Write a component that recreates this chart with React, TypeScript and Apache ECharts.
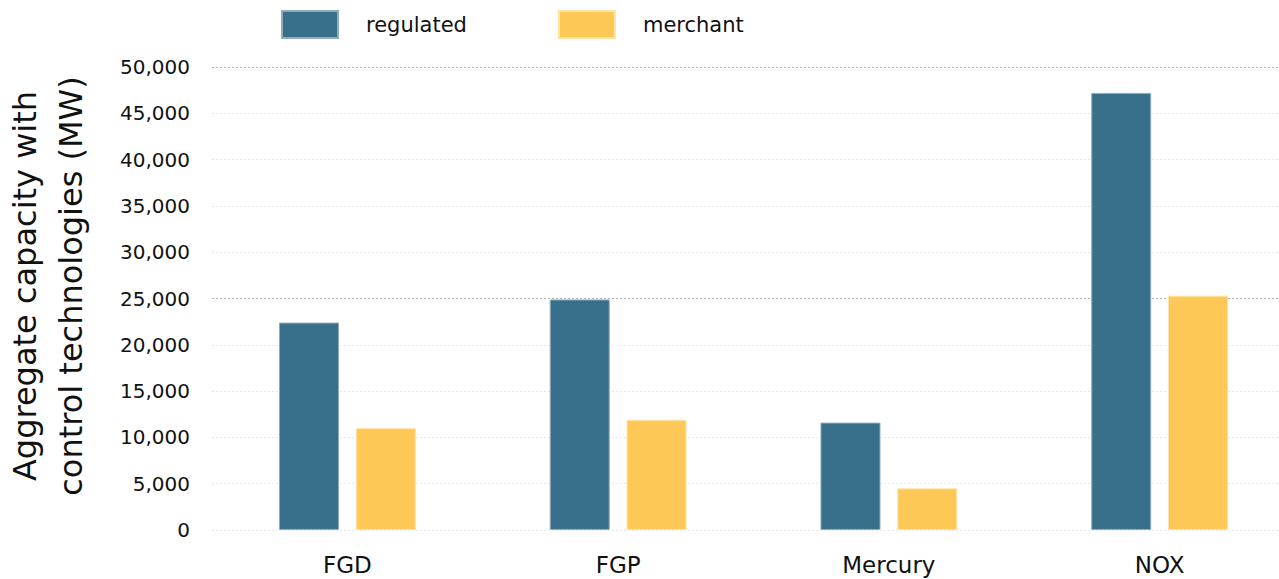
import React, { useEffect, useRef } from "react";
import * as echarts from "echarts";

const categories = ["FGD", "FGP", "Mercury", "NOX"];
const regulated = [22400, 24900, 11600, 47200];
const merchant = [11000, 11900, 4500, 25300];
const seriesNames = ["regulated", "merchant"];
const yTitle = "Aggregate capacity with\ncontrol technologies (MW)";

const FONT = "'DejaVu Sans', sans-serif";

export default function App() {
  const ref = useRef<HTMLDivElement>(null);
  useEffect(() => {
    if (!ref.current) return;
    document.documentElement.style.overflow = "hidden";
    const chart = echarts.init(ref.current, undefined, { renderer: "svg" });
    const light = "#e6e6e6";
    const dark = "#b5b5b5";
    chart.setOption({
      animation: false,
      textStyle: { fontFamily: FONT },
      legend: {
        left: 281,
        top: 10,
        padding: 0,
        itemWidth: 56,
        itemHeight: 27,
        itemGap: 91,
        icon: "rect",
        textStyle: { fontSize: 21, color: "#111", padding: [0, 0, 0, 23], fontFamily: FONT },
        data: seriesNames,
      },
      graphic: [
        {
          type: "text",
          x: 48,
          y: 286,
          rotation: Math.PI / 2,
          style: {
            text: yTitle,
            font: `32px ${FONT}`,
            fill: "#111",
            textAlign: "center",
            textVerticalAlign: "middle",
            lineHeight: 46,
          },
        },
      ],
      grid: { left: 212, right: 0, top: 67, bottom: 49, containLabel: false, outerBoundsMode: "none" },
      xAxis: {
        type: "category",
        data: categories,
        axisLine: { show: false },
        axisTick: { show: false },
        axisLabel: { fontSize: 23, color: "#111", margin: 23, fontFamily: FONT },
      },
      yAxis: {
        type: "value",
        min: 0,
        max: 50000,
        interval: 5000,
        axisLine: { show: false },
        axisTick: { show: false },
        axisLabel: {
          fontSize: 20,
          color: "#111",
          margin: 22,
          fontFamily: FONT,
          formatter: (v: number) => v.toLocaleString("en-US"),
        },
        splitLine: {
          lineStyle: {
            type: [2, 2],
            width: 1,
            color: [light, light, light, light, light, dark, light, light, light, light, dark],
          },
        },
      },
      series: [
        {
          name: seriesNames[0],
          type: "bar",
          data: regulated,
          barWidth: 60,
          barGap: "28%",
          itemStyle: { color: "#386f8a", borderColor: "#8fadbd", borderWidth: 1 },
        },
        {
          name: seriesNames[1],
          type: "bar",
          data: merchant,
          barWidth: 60,
          itemStyle: { color: "#fec857", borderColor: "#ffe3a6", borderWidth: 1 },
        },
      ],
    });
    return () => chart.dispose();
  }, []);
  return (
    <div
      ref={ref}
      style={{ position: "fixed", left: 0, top: 0, width: 1295, height: 579, background: "#fff" }}
    />
  );
}
